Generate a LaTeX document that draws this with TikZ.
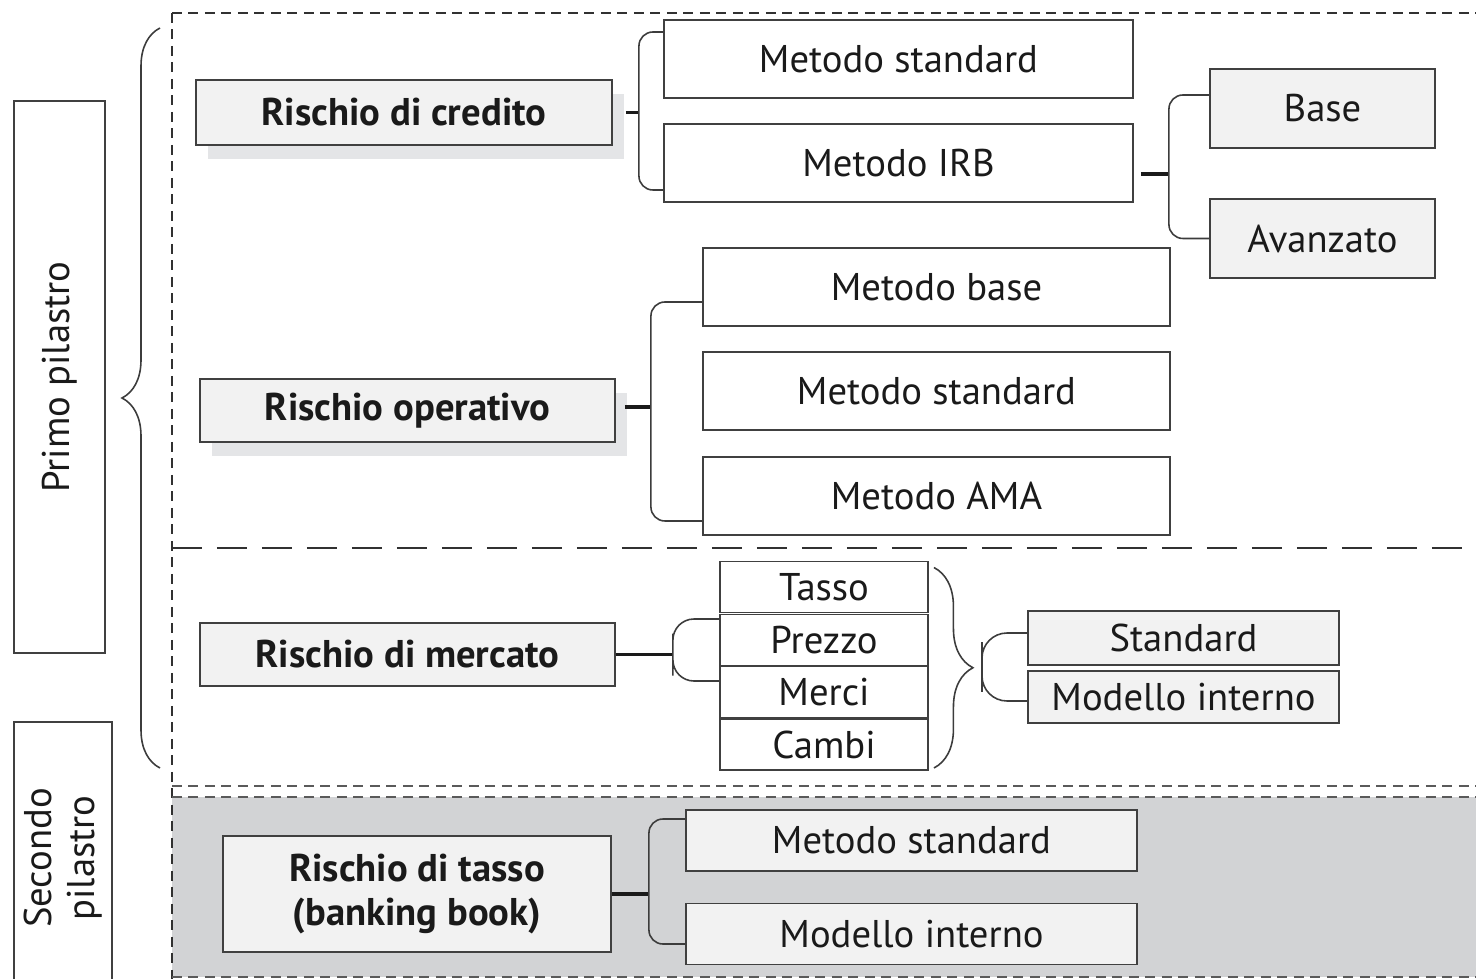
\documentclass[tikz,border=0pt]{standalone}
\usepackage{fontspec}
\setmainfont{PT Sans}
\usepackage{xcolor}
\usepackage{tikz}
\usetikzlibrary{decorations.pathreplacing}
\usetikzlibrary{shadows}

\definecolor{ink}{HTML}{1A1A1A}
\definecolor{boxline}{HTML}{404040}
\definecolor{boxfill}{HTML}{F2F2F2}
\definecolor{shadowgrey}{HTML}{E4E5E7}
\definecolor{sectiongrey}{HTML}{D2D3D5}
\definecolor{dashgrey}{HTML}{5A5A5A}

\tikzset{
	cell/.style 2 args={draw=boxline, line width=1.1pt, fill=white, text=ink, inner sep=0pt, minimum width=#1, minimum height=#2, font=\fontsize{22}{24.5}\selectfont},
	greycell/.style 2 args={cell={#1}{#2}, fill=boxfill},
	riskcell/.style 2 args={greycell={#1}{#2}, font=\fontsize{22}{24.5}\selectfont\bfseries},
	shadowed/.style={drop shadow={shadow xshift=.24cm, shadow yshift=-.28cm, fill=shadowgrey, opacity=1}},
	link/.style={draw=ink, line width=2pt},
	bracket/.style={draw=ink!85, line width=.9pt, rounded corners=#1},
	bracket/.default=.28cm,
	curly/.style={draw=ink!85, line width=.9pt, decorate, decoration={brace, amplitude=#1}},
	smalldash/.style={draw=ink!90, line width=1.1pt, dash pattern=on .2cm off .13cm},
	longdash/.style={draw=ink!90, line width=1.4pt, dash pattern=on .6cm off .3cm},
}

\begin{document}
\begin{tikzpicture}[x=0.02cm,y=-0.02cm]
	\useasboundingbox (0,0) rectangle (1476,979);
	\clip (0,0) rectangle (1476,979);
	
	\fill[sectiongrey] (172,797) rectangle (1476,977);
	\draw[smalldash] (172,13) -- (1476,13);
	\draw[smalldash] (172,13) -- (172,979);
	\draw[longdash] (172,548) -- (1476,548);
	\draw[smalldash, draw=dashgrey] (172,786) -- (1476,786);
	\draw[smalldash, draw=dashgrey] (172,797) -- (1476,797);
	\draw[smalldash, draw=dashgrey] (172,977) -- (1476,977);
	
	\node[cell={11.04cm}{1.82cm}, rotate=90] (primo) at (59.5,377) {Primo pilastro};
	\node[cell={5.44cm}{1.96cm}, rotate=90, align=center] (secondo) at (63,858) {Secondo\\pilastro};
	\coordinate (braceBottom) at (160,768);
	\coordinate (braceTop) at (160,28);
	\draw[curly=.76cm] (braceBottom) -- (braceTop);
	
	\node[riskcell={8.32cm}{1.3cm}, shadowed] (credito) at (404,112.5) {Rischio di credito};
	\node[cell={9.38cm}{1.56cm}] (mstd1) at (898.5,59) {Metodo standard};
	\node[cell={9.38cm}{1.56cm}] (irb) at (898.5,163) {Metodo IRB};
	\node[greycell={4.5cm}{1.58cm}] (base) at (1322.5,108.5) {Base};
	\node[greycell={4.5cm}{1.58cm}] (avanzato) at (1322.5,238.5) {Avanzato};
	
	\node[riskcell={8.3cm}{1.26cm}, shadowed] (operativo) at (407.5,410.5) {Rischio operativo};
	\node[cell={9.34cm}{1.56cm}] (mbase) at (936.5,287) {Metodo base};
	\node[cell={9.34cm}{1.56cm}] (mstd2) at (936.5,391) {Metodo standard};
	\node[cell={9.34cm}{1.56cm}] (ama) at (936.5,496) {Metodo AMA};
	
	\node[riskcell={8.3cm}{1.26cm}] (mercato) at (407.5,654.5) {Rischio di mercato};
	\node[cell={4.16cm}{1.02cm}] (tasso) at (824,587) {Tasso};
	\node[cell={4.16cm}{1.02cm}] (prezzo) at (824,640) {Prezzo};
	\node[cell={4.16cm}{1.02cm}] (merci) at (824,692) {Merci};
	\node[cell={4.16cm}{1.02cm}] (cambi) at (824,744.5) {Cambi};
	\node[greycell={6.22cm}{1.08cm}] (standard) at (1183.5,638) {Standard};
	\node[greycell={6.22cm}{1.04cm}] (interno) at (1183.5,697) {Modello interno};
	
	\node[riskcell={7.76cm}{2.32cm}, align=center] (tassobb) at (417,894) {Rischio di tasso\\(banking book)};
	\node[greycell={9.02cm}{1.22cm}] (mstd3) at (911.5,840.5) {Metodo standard};
	\node[greycell={9.02cm}{1.22cm}] (interno2) at (911.5,934) {Modello interno};
	
	\coordinate (b1) at ([xshift=.52cm]credito.east);
	\draw[link] ([xshift=.26cm]credito.east) -- (b1);
	\draw[bracket] ([yshift=.54cm]mstd1.west) -| (b1) |- ([yshift=-.54cm]irb.west);
	
	\coordinate (b2) at ([xshift=.7cm,yshift=-.22cm]irb.east);
	\draw[link] ([xshift=.14cm,yshift=-.22cm]irb.east) -- (b2);
	\draw[bracket] ([yshift=.27cm]base.west) -| (b2) |- (avanzato.west);
	
	\coordinate (b3) at ([xshift=.7cm,yshift=.07cm]operativo.east);
	\draw[link] ([xshift=.18cm,yshift=.07cm]operativo.east) -- (b3);
	\draw[bracket] ([yshift=-.3cm]mbase.west) -| (b3) |- ([yshift=-.5cm]ama.west);
	
	\coordinate (b4) at ([xshift=1.14cm]mercato.east);
	\draw[link] (mercato.east) -- (b4);
	\draw[bracket=.42cm] ([yshift=.42cm]prezzo.west) -| (b4) |- ([yshift=.22cm]merci.west);
	\draw[curly=.78cm] ([xshift=.1cm,yshift=-.14cm]tasso.north east) -- ([xshift=.1cm,yshift=.06cm]cambi.south east);
	\coordinate (b5) at (982,667);
	\draw[bracket=.5cm] ([yshift=.1cm]standard.west) -| (b5) |- ([yshift=-.08cm]interno.west);
	
	\coordinate (b6) at ([xshift=.74cm]tassobb.east);
	\draw[link] (tassobb.east) -- (b6);
	\draw[bracket] ([yshift=.43cm]mstd3.west) -| (b6) |- ([yshift=-.2cm]interno2.west);
\end{tikzpicture}
\end{document}
